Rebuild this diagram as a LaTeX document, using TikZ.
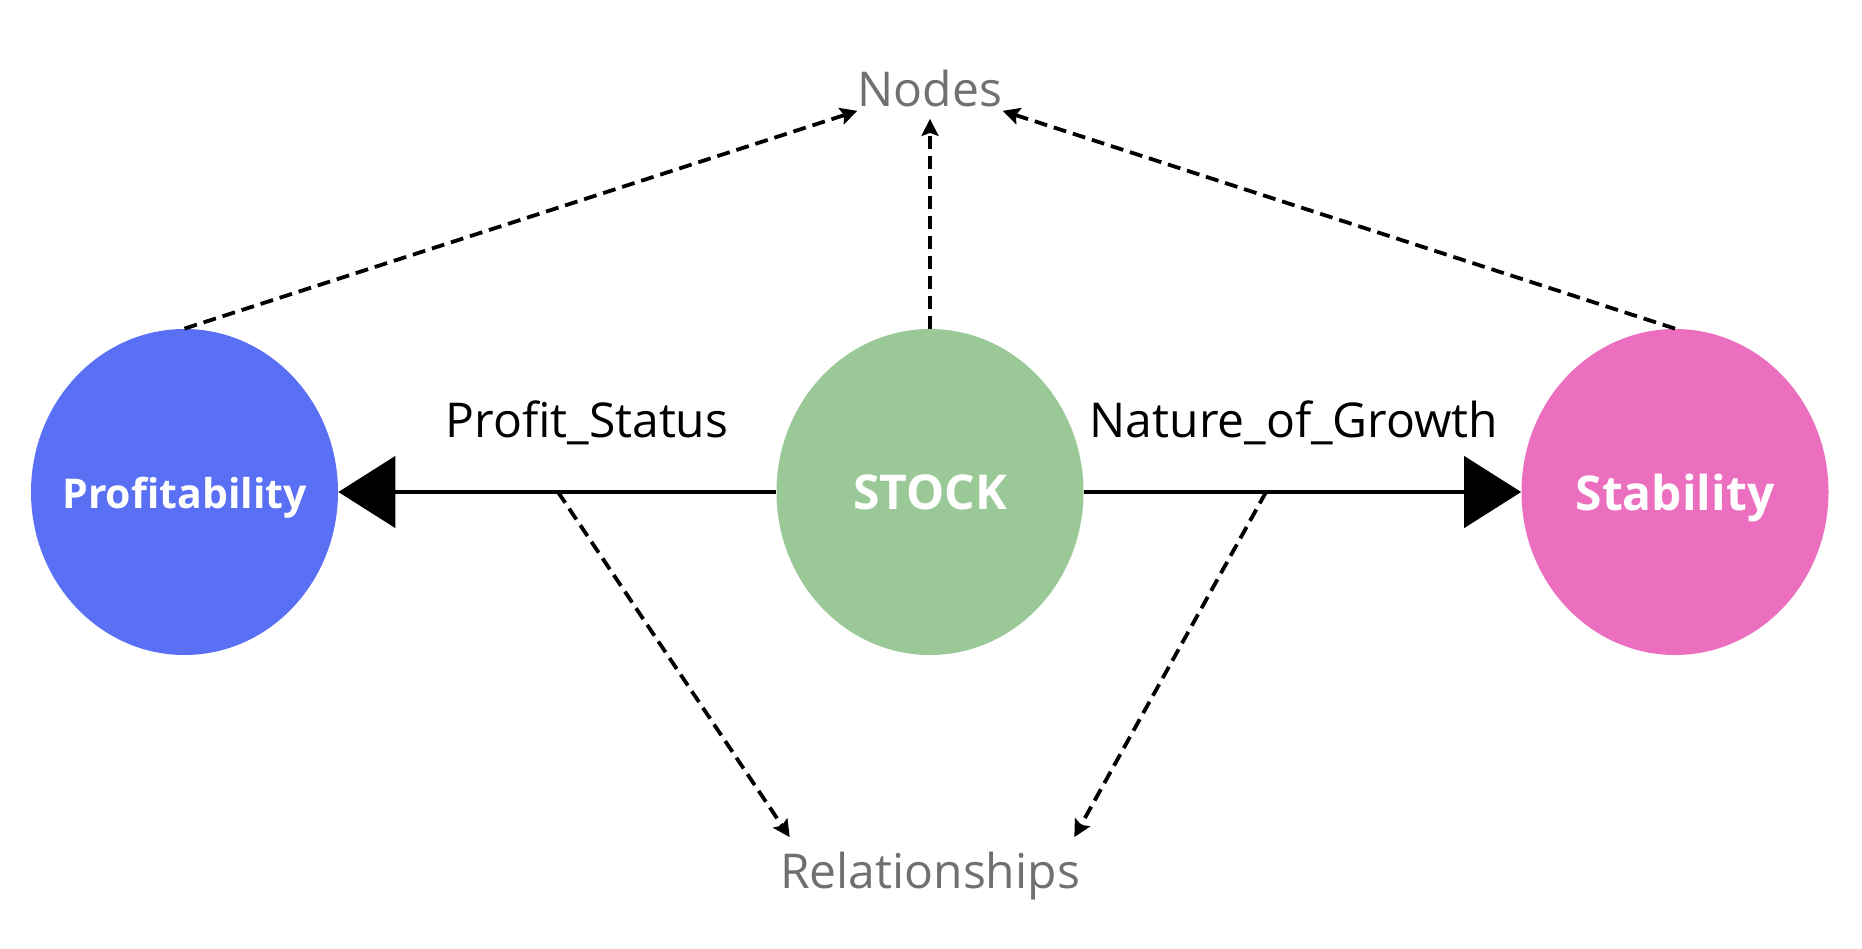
\documentclass[tikz,border=0pt]{standalone}
\usepackage{fontspec}
\setmainfont{Open Sans}
\usetikzlibrary{shapes.geometric,arrows.meta}
\definecolor{cprof}{HTML}{5970F5}
\definecolor{cstock}{HTML}{9AC997}
\definecolor{cstab}{HTML}{EC6FBF}
\definecolor{cgray}{HTML}{707070}
\tikzset{
  bubble/.style={ellipse, minimum width=153.5pt, minimum height=163pt, inner sep=0pt},
  bubbletext/.style={text=white, inner sep=0pt, font=\fontsize{#1}{28}\selectfont\bfseries},
  edgelabel/.style={anchor=base, inner sep=0pt, font=\fontsize{24}{28}\selectfont},
  catlabel/.style={inner xsep=0pt, text=cgray, font=\fontsize{24}{28}\selectfont},
  mainarrow/.style={line width=1.6pt, -{Triangle[length=28.5pt,width=36pt,line width=0.5pt]}},
  metaarrow/.style={line width=1.9pt, dash pattern=on 6.5pt off 3.5pt, -{Stealth[length=8.5pt,width=8.5pt,inset=1.5pt]}}
}
\begin{document}
\begin{tikzpicture}[x=0.5pt,y=-0.5pt]
\useasboundingbox (0,0) rectangle (1862,948);
\node[bubble, fill=cprof, label={[bubbletext=20.5, name=proft, yshift=-3pt]center:Profitability}] (prof) at (184.5,492) {};
\node[bubble, fill=cstock, label={[bubbletext=24, name=stockt]center:STOCK}] (stock) at (930,492) {};
\node[bubble, fill=cstab, label={[bubbletext=24, name=stabt, yshift=-3pt]center:Stability}] (stab) at (1675,492) {};
\node[edgelabel] (pslab) at (587,437) {Profit\_Status};
\node[edgelabel] (nglab) at (1294,437) {Nature\_of\_Growth};
\node[catlabel, inner ysep=2pt, anchor=base] (nodes) at (930,106) {Nodes};
\node[catlabel, inner ysep=7pt, anchor=base] (rel) at (930,888) {Relationships};
\coordinate (r1) at (558,492);
\coordinate (r2) at (1266,492);
\draw[mainarrow] (stock) -- (prof);
\draw[mainarrow] (stock) -- (stab);
\draw[metaarrow] (prof.north) -- (nodes.south west);
\draw[metaarrow, shorten >=4pt] (stock.north) -- (nodes.south);
\draw[metaarrow] (stab.north) -- (nodes.south east);
\draw[metaarrow] (r1) -- ([xshift=5pt]rel.north west);
\draw[metaarrow] (r2) -- ([xshift=-3pt]rel.north east);
\end{tikzpicture}
\end{document}
